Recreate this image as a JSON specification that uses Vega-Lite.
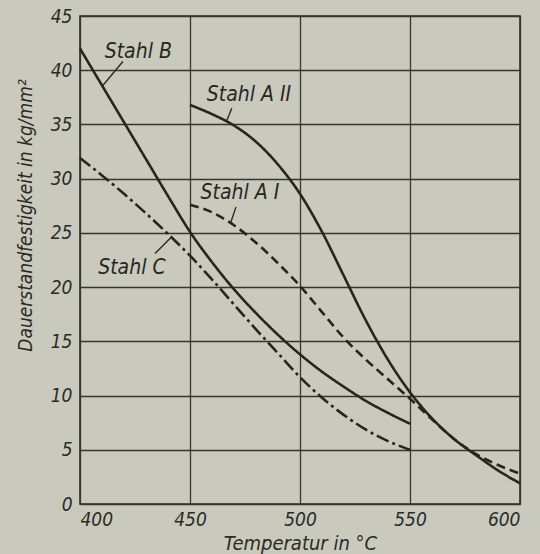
{
  "$schema": "https://vega.github.io/schema/vega-lite/v6.json",
  "width": 440,
  "height": 488,
  "autosize": {"type": "none"},
  "padding": {"left": 80, "top": 16, "right": 20, "bottom": 50},
  "background": "#c9c9be",
  "config": {
    "view": {"stroke": "#2e2e28", "strokeWidth": 1.6},
    "font": "DejaVu Sans Condensed",
    "axis": {
      "labelFont": "DejaVu Sans Condensed",
      "titleFont": "DejaVu Sans Condensed",
      "labelFontStyle": "italic",
      "titleFontStyle": "italic",
      "titleFontWeight": "normal",
      "labelColor": "#2b2b26",
      "titleColor": "#2b2b26",
      "gridColor": "#36362f",
      "gridOpacity": 1,
      "gridWidth": 1.3,
      "ticks": false,
      "domain": false
    }
  },
  "datasets": {
    "curves": [
      {"series": "Stahl B", "t": 400, "s": 42.0},
      {"series": "Stahl B", "t": 410, "s": 38.6},
      {"series": "Stahl B", "t": 420, "s": 35.2},
      {"series": "Stahl B", "t": 430, "s": 31.8},
      {"series": "Stahl B", "t": 440, "s": 28.4},
      {"series": "Stahl B", "t": 450, "s": 25.1},
      {"series": "Stahl B", "t": 460, "s": 22.3},
      {"series": "Stahl B", "t": 470, "s": 19.8},
      {"series": "Stahl B", "t": 480, "s": 17.6},
      {"series": "Stahl B", "t": 490, "s": 15.6},
      {"series": "Stahl B", "t": 500, "s": 13.8},
      {"series": "Stahl B", "t": 510, "s": 12.2},
      {"series": "Stahl B", "t": 520, "s": 10.8},
      {"series": "Stahl B", "t": 530, "s": 9.5},
      {"series": "Stahl B", "t": 540, "s": 8.4},
      {"series": "Stahl B", "t": 550, "s": 7.4},
      {"series": "Stahl C", "t": 400, "s": 31.9},
      {"series": "Stahl C", "t": 410, "s": 30.3},
      {"series": "Stahl C", "t": 420, "s": 28.6},
      {"series": "Stahl C", "t": 430, "s": 26.8},
      {"series": "Stahl C", "t": 440, "s": 24.9},
      {"series": "Stahl C", "t": 450, "s": 22.9},
      {"series": "Stahl C", "t": 460, "s": 20.7},
      {"series": "Stahl C", "t": 470, "s": 18.4},
      {"series": "Stahl C", "t": 480, "s": 16.1},
      {"series": "Stahl C", "t": 490, "s": 13.9},
      {"series": "Stahl C", "t": 500, "s": 11.7},
      {"series": "Stahl C", "t": 510, "s": 9.8},
      {"series": "Stahl C", "t": 520, "s": 8.2},
      {"series": "Stahl C", "t": 530, "s": 6.85},
      {"series": "Stahl C", "t": 540, "s": 5.8},
      {"series": "Stahl C", "t": 550, "s": 5.0},
      {"series": "Stahl A II", "t": 450, "s": 36.8},
      {"series": "Stahl A II", "t": 460, "s": 35.95},
      {"series": "Stahl A II", "t": 470, "s": 34.9},
      {"series": "Stahl A II", "t": 480, "s": 33.4},
      {"series": "Stahl A II", "t": 490, "s": 31.3},
      {"series": "Stahl A II", "t": 500, "s": 28.6},
      {"series": "Stahl A II", "t": 510, "s": 25.1},
      {"series": "Stahl A II", "t": 520, "s": 21.0},
      {"series": "Stahl A II", "t": 530, "s": 16.9},
      {"series": "Stahl A II", "t": 540, "s": 13.3},
      {"series": "Stahl A II", "t": 550, "s": 10.3},
      {"series": "Stahl A II", "t": 560, "s": 7.9},
      {"series": "Stahl A II", "t": 570, "s": 6.0},
      {"series": "Stahl A II", "t": 580, "s": 4.5},
      {"series": "Stahl A II", "t": 590, "s": 3.1},
      {"series": "Stahl A II", "t": 600, "s": 1.9},
      {"series": "Stahl A I", "t": 450, "s": 27.6},
      {"series": "Stahl A I", "t": 460, "s": 26.9},
      {"series": "Stahl A I", "t": 470, "s": 25.7},
      {"series": "Stahl A I", "t": 480, "s": 24.1},
      {"series": "Stahl A I", "t": 490, "s": 22.2},
      {"series": "Stahl A I", "t": 500, "s": 20.1},
      {"series": "Stahl A I", "t": 510, "s": 17.7},
      {"series": "Stahl A I", "t": 520, "s": 15.3},
      {"series": "Stahl A I", "t": 530, "s": 13.3},
      {"series": "Stahl A I", "t": 540, "s": 11.5},
      {"series": "Stahl A I", "t": 550, "s": 9.7},
      {"series": "Stahl A I", "t": 560, "s": 7.8},
      {"series": "Stahl A I", "t": 570, "s": 6.0},
      {"series": "Stahl A I", "t": 580, "s": 4.6},
      {"series": "Stahl A I", "t": 590, "s": 3.6},
      {"series": "Stahl A I", "t": 600, "s": 2.8}
    ],
    "labels": [
      {"label": "Stahl B", "tx": 426.5, "ty": 41.7, "x1": 419.5, "y1": 40.8, "x2": 410.0, "y2": 38.5},
      {"label": "Stahl A II", "tx": 476.8, "ty": 37.7, "x1": 469.0, "y1": 36.5, "x2": 466.4, "y2": 35.2},
      {"label": "Stahl A I", "tx": 472.7, "ty": 28.7, "x1": 470.9, "y1": 27.4, "x2": 468.6, "y2": 26.0},
      {"label": "Stahl C", "tx": 423.6, "ty": 21.8, "x1": 434.1, "y1": 23.1, "x2": 441.7, "y2": 24.65}
    ]
  },
  "layer": [
    {
      "data": {"name": "curves"},
      "mark": {"type": "line", "interpolate": "monotone", "strokeWidth": 2.6, "color": "#26261f"},
      "encoding": {
        "x": {
          "field": "t", "type": "quantitative",
          "scale": {"domain": [400, 600], "nice": false, "zero": false},
          "axis": {"values": [400, 450, 500, 550, 600], "labelFontSize": 19, "labelPadding": 6,
                   "title": "Temperatur  in  °C", "titleFontSize": 20, "titlePadding": 4}
        },
        "y": {
          "field": "s", "type": "quantitative",
          "scale": {"domain": [0, 45], "nice": false},
          "axis": {"values": [0, 5, 10, 15, 20, 25, 30, 35, 40, 45], "labelFontSize": 19, "labelPadding": 8,
                   "title": "Dauerstandfestigkeit  in  kg/mm²", "titleFontSize": 19,
                   "titleX": -55, "titleY": 199, "titleAlign": "center", "titleBaseline": "middle"}
        },
        "detail": {"field": "series"},
        "strokeDash": {
          "field": "series", "type": "nominal",
          "scale": {"domain": ["Stahl B", "Stahl A II", "Stahl A I", "Stahl C"],
                    "range": [[1, 0], [1, 0], [9, 5], [13, 4, 3, 4]]},
          "legend": null
        }
      }
    },
    {
      "data": {"name": "labels"},
      "mark": {"type": "rule", "strokeWidth": 1.4, "color": "#2b2b26"},
      "encoding": {
        "x": {"field": "x1", "type": "quantitative"},
        "y": {"field": "y1", "type": "quantitative"},
        "x2": {"field": "x2"},
        "y2": {"field": "y2"}
      }
    },
    {
      "data": {"name": "labels"},
      "mark": {"type": "text", "fontSize": 21, "fontStyle": "italic", "font": "DejaVu Sans Condensed", "color": "#26261f", "align": "center", "baseline": "middle"},
      "encoding": {
        "x": {"field": "tx", "type": "quantitative"},
        "y": {"field": "ty", "type": "quantitative"},
        "text": {"field": "label"}
      }
    }
  ]
}
